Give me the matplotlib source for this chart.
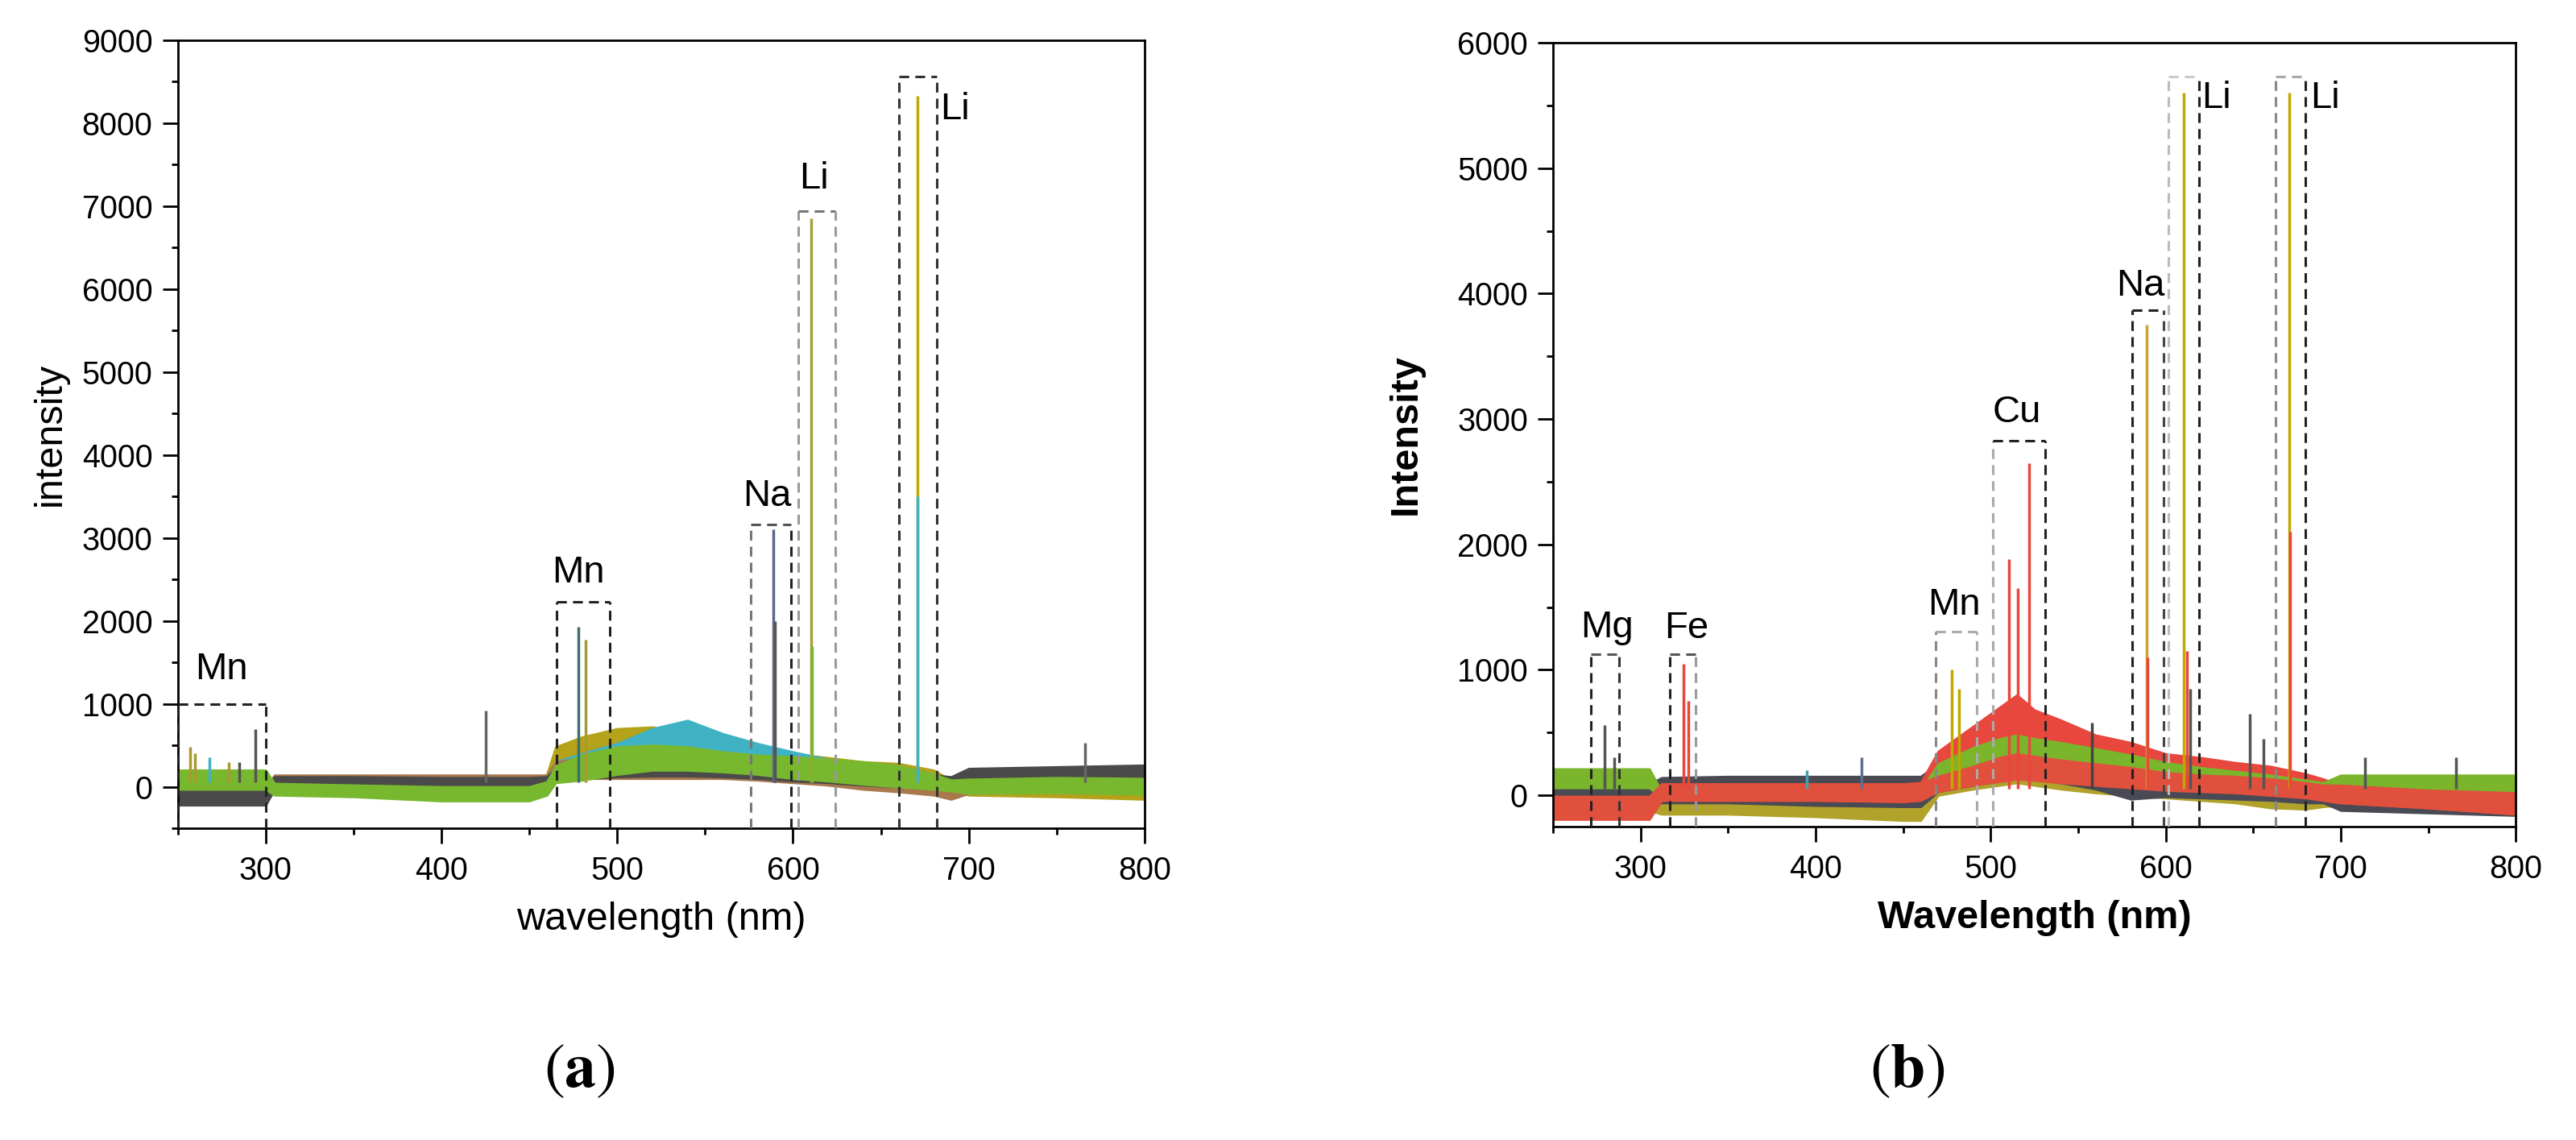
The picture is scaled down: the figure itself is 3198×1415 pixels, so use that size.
import numpy as np
import matplotlib.pyplot as plt
from matplotlib.ticker import MultipleLocator

plt.rcParams['font.family'] = ['Liberation Sans', 'DejaVu Sans']
plt.rcParams['mathtext.fontset'] = 'stix'

# ---------------- panel (a) : spectra envelopes ----------------
wl_a = [250, 300, 305, 350, 400, 450, 460, 465, 480, 500, 520, 540, 560, 580, 600, 620, 640, 660, 680, 690, 700, 750, 800]
olive_a_lo = [-80, -80, -60, -80, -100, -120, -60, 100, 150, 180, 200, 200, 180, 170, 150, 100, 30, 0, -30, -60, -100, -120, -150]
olive_a_hi = [150, 140, 60, 50, 40, 30, 150, 480, 600, 700, 720, 650, 560, 480, 400, 350, 300, 280, 200, 80, 80, 100, 110]
cyan_a_lo = [-10, -10, -20, -20, -20, -20, -10, 80, 150, 200, 250, 300, 300, 280, 250, 150, 80, 30, 0, -40, -30, -30, -30]
cyan_a_hi = [100, 100, 60, 60, 60, 60, 80, 300, 400, 520, 700, 800, 640, 520, 420, 330, 280, 250, 150, 80, 100, 100, 100]
brown_a_lo = [-200, -200, -40, -40, -40, -40, -40, 60, 100, 100, 100, 100, 100, 80, 50, 20, -30, -60, -100, -150, -80, -60, -50]
brown_a_hi = [-20, -20, 140, 140, 140, 140, 140, 300, 350, 350, 350, 350, 350, 300, 280, 250, 220, 150, 100, 60, 130, 200, 230]
dark_a_lo = [-220, -220, -30, -30, -40, -40, -30, 80, 100, 120, 130, 130, 120, 100, 70, 50, 20, 0, -20, -20, 20, 40, 60]
dark_a_hi = [0, 0, 120, 120, 110, 110, 120, 220, 250, 280, 300, 300, 290, 270, 260, 230, 200, 170, 140, 120, 220, 240, 260]
green_a_lo = [-30, -30, -100, -120, -170, -170, -100, 50, 80, 150, 200, 200, 180, 150, 100, 70, 30, 0, -30, -50, -80, -70, -90]
green_a_hi = [200, 200, 40, 20, 0, 0, 60, 250, 380, 480, 500, 480, 420, 380, 360, 330, 300, 250, 150, 80, 90, 110, 100]

peak_a_wl = [257, 260, 268, 279, 285, 294, 425, 478, 482, 589, 589.6, 610.4, 611, 670.8, 671, 766]
peak_a_h = [480, 400, 350, 300, 300, 690, 920, 1930, 1770, 3100, 2000, 6850, 1700, 8330, 3500, 530]
peak_a_c = ['#a89a30', '#a89a30', '#3fb2c4', '#a89a30', '#555555', '#555555', '#666666', '#3d6f6f',
            '#a89a30', '#5a6a8a', '#555555', '#a8a040', '#78b82e', '#c0a800', '#3fb2c4', '#666666']

box_a_x0 = [250, 465.4, 576, 602.8, 660.3]
box_a_x1 = [300, 495.8, 599, 624.3, 681.8]
box_a_top = [1000, 2230, 3160, 6940, 8560]
label_a = ['Mn', 'Mn', 'Na', 'Li', 'Li']
label_a_x = [275, 478, 585.5, 612, 692]
label_a_y = [1410, 2583, 3500, 7330, 8160]

# ---------------- panel (b) ----------------
wl_b = [250, 305, 312, 350, 400, 450, 460, 470, 490, 505, 515, 525, 540, 560, 580, 600, 620, 640, 660, 680, 690, 700, 750, 800]
olive_b_lo = [-120, -120, -150, -150, -170, -200, -200, 0, 50, 80, 100, 80, 50, 20, 0, -20, -40, -60, -100, -110, -90, -80, -60, -50]
olive_b_hi = [20, 20, -20, -30, -40, -40, -40, 150, 250, 300, 330, 300, 260, 220, 180, 150, 130, 100, 60, 30, 20, 60, 60, 60]
dark_b_lo = [-60, -60, -60, -60, -80, -90, -90, 30, 80, 120, 150, 130, 100, 50, -30, -10, -20, -30, -40, -60, -60, -120, -140, -160]
dark_b_hi = [90, 90, 140, 150, 150, 150, 150, 250, 300, 340, 350, 330, 300, 250, 150, 180, 160, 150, 120, 100, 80, 60, 60, 50]
red_b_lo = [-190, -190, -40, -40, -40, -50, -40, 150, 250, 300, 350, 300, 250, 200, 180, 150, 130, 100, 80, 0, -40, -60, -100, -150]
red_b_hi = [-10, -10, 90, 90, 90, 90, 100, 350, 550, 700, 800, 680, 600, 480, 420, 330, 300, 260, 230, 170, 130, 80, 40, 20]
green_b_lo = [60, 60, -20, -20, -20, -20, -20, 120, 200, 260, 300, 280, 250, 220, 170, 130, 100, 80, 60, 20, 20, 30, 30, 30]
green_b_hi = [210, 210, 30, 30, 30, 30, 40, 250, 380, 450, 480, 450, 420, 370, 320, 260, 220, 190, 160, 120, 100, 160, 160, 160]
red2_b_lo = [-190, -190, -40, -40, -40, -50, -40, 30, 80, 110, 130, 120, 100, 80, 60, 40, 30, 20, 0, -20, -40, -60, -100, -150]
red2_b_hi = [-10, -10, 90, 90, 90, 90, 100, 150, 230, 300, 330, 310, 280, 250, 220, 180, 160, 150, 130, 100, 80, 80, 40, 20]

peak_b_wl = [279.5, 285, 324.7, 327.4, 395, 426, 478, 482, 510.5, 515.3, 521.8, 558, 589, 589.6, 610.4, 612, 614, 648, 656, 670.8, 671, 714, 766]
peak_b_h = [560, 300, 1050, 750, 200, 300, 1000, 850, 1880, 1650, 2650, 580, 3750, 1100, 5600, 1150, 850, 650, 450, 5600, 2100, 300, 300]
peak_b_c = ['#555555', '#555555', '#e8473d', '#e8473d', '#4aa0a8', '#5c7090', '#c0a800', '#c0a800', '#e8473d',
            '#e8473d', '#e8473d', '#444444', '#d0a030', '#e8473d', '#c0a800', '#e8473d', '#555555', '#555555',
            '#555555', '#c0a800', '#e8473d', '#555555', '#555555']

box_b_x0 = [271.8, 316.5, 468.4, 501.3, 580.8, 601.5, 662.7]
box_b_x1 = [287.8, 331.5, 491.9, 531, 598.7, 619, 680]
box_b_top = [1126, 1126, 1306, 2829, 3865, 5730, 5730]
label_b = ['Mg', 'Fe', 'Mn', 'Cu', 'Na', 'Li', 'Li']
label_b_x = [281, 326, 479, 515, 585.5, 629, 691]
label_b_y = [1338, 1329, 1518, 3050, 4063, 5554, 5554]

# box edge colours (left, top, right)
box_a_col = [('#222', '#222', '#222'), ('#222', '#222', '#222'), ('#777', '#555', '#222'),
             ('#999', '#777', '#999'), ('#333', '#333', '#333')]
box_b_col = [('#222', '#555', '#333'), ('#222', '#555', '#999'), ('#888', '#aaa', '#aaa'),
             ('#aaa', '#222', '#222'), ('#222', '#222', '#444'), ('#bbb', '#ccc', '#222'),
             ('#888', '#aaa', '#222')]


def style(ax, ymin, ymax):
    ax.set_xlim(250, 800)
    ax.set_ylim(ymin, ymax)
    ax.xaxis.set_major_locator(MultipleLocator(100))
    ax.xaxis.set_minor_locator(MultipleLocator(50))
    ax.yaxis.set_major_locator(MultipleLocator(1000))
    ax.yaxis.set_minor_locator(MultipleLocator(500))
    ax.tick_params(which='major', direction='out', length=13.5, width=2, labelsize=28.5, pad=9)
    ax.tick_params(which='minor', direction='out', length=6, width=2)
    ax.tick_params(axis='x', which='major', pad=11)
    for s in ax.spines.values():
        s.set_linewidth(2)


def boxes(ax, x0, x1, top, cols, ybot):
    for i in range(len(x0)):
        cl, ct, cr = cols[i]
        kw = dict(lw=2.2, ls=(0, (4, 2.5)), zorder=5)
        ax.plot([x0[i], x0[i]], [ybot, top[i]], color=cl, **kw)
        ax.plot([x0[i], x1[i]], [top[i], top[i]], color=ct, **kw)
        ax.plot([x1[i], x1[i]], [ybot, top[i]], color=cr, **kw)


def band(ax, wl, lo, hi, color):
    # dense noisy trace drawn as a filled band (edge in same colour)
    ax.fill_between(wl, lo, hi, facecolor=color, edgecolor=color, lw=2)


fig = plt.figure(figsize=(31.98, 14.15), dpi=100)

# ---- (a)
ax = fig.add_axes([0.0690, 0.2735, 0.3753, 0.6912])
band(ax, wl_a, olive_a_lo, olive_a_hi, '#b3a21a')
band(ax, wl_a, cyan_a_lo, cyan_a_hi, '#3fb2c4')
band(ax, wl_a, brown_a_lo, brown_a_hi, '#a9784c')
band(ax, wl_a, dark_a_lo, dark_a_hi, '#4a4a4a')
band(ax, wl_a, green_a_lo, green_a_hi, '#78b82e')
ax.vlines(peak_a_wl, 50, peak_a_h, colors=peak_a_c, lw=2.5, zorder=3)
style(ax, -500, 9000)
boxes(ax, box_a_x0, box_a_x1, box_a_top, box_a_col, -500)
for t, x, y in zip(label_a, label_a_x, label_a_y):
    ax.text(x, y, t, fontsize=34, ha='center', va='center', zorder=6)
ax.set_xlabel('wavelength (nm)', fontsize=35, labelpad=14)
ax.set_ylabel('intensity', fontsize=35, labelpad=12)

# ---- (b)
ax2 = fig.add_axes([0.6029, 0.2749, 0.3737, 0.6876])
band(ax2, wl_b, olive_b_lo, olive_b_hi, '#b0a22a')
band(ax2, wl_b, dark_b_lo, dark_b_hi, '#4a4a55')
band(ax2, wl_b, red_b_lo, red_b_hi, '#e8473d')
band(ax2, wl_b, green_b_lo, green_b_hi, '#7ab52c')
band(ax2, wl_b, red2_b_lo, red2_b_hi, '#e0503c')
ax2.vlines(peak_b_wl, 50, peak_b_h, colors=peak_b_c, lw=2.5, zorder=3)
style(ax2, -250, 6000)
boxes(ax2, box_b_x0, box_b_x1, box_b_top, box_b_col, -250)
for t, x, y in zip(label_b, label_b_x, label_b_y):
    ax2.text(x, y, t, fontsize=34, ha='center', va='center', zorder=6)
ax2.set_xlabel('Wavelength (nm)', fontsize=35, fontweight='bold', labelpad=14)
ax2.set_ylabel('Intensity', fontsize=35, fontweight='bold', labelpad=30)

fig.text(0.2251, 0.061, r'$(\mathbf{a})$', fontsize=56, ha='center', va='center')
fig.text(0.7405, 0.061, r'$(\mathbf{b})$', fontsize=56, ha='center', va='center')

fig.savefig('out.png', dpi=100)
